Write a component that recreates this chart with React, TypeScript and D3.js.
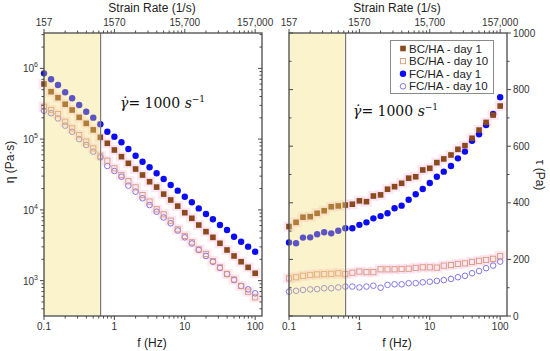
import React from "react";
import * as d3 from "d3";

// ---------- DATA ----------
const freq = [0.1, 0.126, 0.158, 0.2, 0.251, 0.316, 0.398, 0.501, 0.631, 0.794, 1, 1.26, 1.58, 2, 2.51, 3.16, 3.98, 5.01, 6.31, 7.94, 10, 12.6, 15.8, 20, 25.1, 31.6, 39.8, 50.1, 63.1, 79.4, 100];

// viscosity eta (Pa·s)
const etaBC1 = [6.01e5, 4.68e5, 3.85e5, 3.11e5, 2.58e5, 2.03e5, 1.67e5, 1.35e5, 1.06e5, 8.73e4, 7.02e4, 5.65e4, 4.55e4, 3.78e4, 3.11e4, 2.5e4, 2.1e4, 1.67e4, 1.38e4, 1.13e4, 9.12e3, 7.6e3, 6.11e3, 4.92e3, 4.09e3, 3.37e3, 2.71e3, 2.23e3, 1.85e3, 1.54e3, 1.27e3];
const etaBC10 = [2.87e5, 2.58e5, 2.26e5, 1.76e5, 1.42e5, 1.14e5, 9.2e4, 7.41e4, 5.83e4, 4.95e4, 3.87e4, 3.11e4, 2.54e4, 2.08e4, 1.62e4, 1.31e4, 1.02e4, 8.65e3, 7.03e3, 5.31e3, 4.28e3, 3.48e3, 2.77e3, 2.38e3, 1.89e3, 1.54e3, 1.24e3, 1.04e3, 840, 697, 581];
const etaFC1 = [8.51e5, 7.01e5, 5.82e5, 4.59e5, 3.78e5, 3.03e5, 2.44e5, 2.01e5, 1.62e5, 1.27e5, 1.08e5, 9.02e4, 7.24e4, 5.83e4, 4.8e4, 4.0e4, 3.29e4, 2.73e4, 2.25e4, 1.87e4, 1.53e4, 1.28e4, 1.05e4, 8.75e3, 7.36e3, 6.11e3, 5.2e3, 4.18e3, 3.55e3, 3.02e3, 2.56e3];
const etaFC10 = [2.52e5, 2.32e5, 1.96e5, 1.55e5, 1.27e5, 1.0e5, 8.26e4, 6.64e4, 5.53e4, 4.17e4, 3.54e4, 2.94e4, 2.2e4, 1.81e4, 1.46e4, 1.17e4, 9.42e3, 7.8e3, 6.46e3, 5.11e3, 4.09e3, 3.35e3, 2.71e3, 2.23e3, 1.85e3, 1.51e3, 1.24e3, 1.02e3, 840, 754, 662];

// shear stress tau (Pa)
const tauBC1 = [316, 331, 349, 351, 363, 372, 386, 389, 392, 395, 407, 404, 424, 428, 448, 457, 469, 487, 492, 516, 522, 542, 555, 569, 589, 602, 628, 657, 684, 710, 742];
const tauBC10 = [133, 137, 142, 145, 147, 148, 149, 151, 148, 153, 157, 155, 155, 165, 165, 165, 166, 167, 170, 172, 172, 171, 178, 180, 184, 186, 191, 195, 198, 202, 212];
const tauFC1 = [260, 257, 277, 278, 289, 296, 292, 301, 310, 310, 322, 331, 345, 353, 363, 381, 390, 411, 430, 449, 470, 492, 510, 530, 557, 581, 619, 642, 675, 714, 773];
const tauFC10 = [86, 89, 92, 94, 95, 98, 98, 101, 104, 104, 101, 104, 107, 100, 110, 112, 112, 116, 116, 119, 121, 124, 127, 131, 137, 142, 151, 159, 169, 178, 192];

const fTicks = [0.1, 1, 10, 100];
const fTickLabels = ["0.1", "1", "10", "100"];
const strainTickLabels = ["157", "1570", "15,700", "157,000"];
const etaTickExps = [3, 4, 5, 6];
const tauTicks = [0, 200, 400, 600, 800, 1000];
const seriesNames = ["BC/HA - day 1", "BC/HA - day 10", "FC/HA - day 1", "FC/HA - day 10"];
const shearLimitHz = 1000 / 1570;

// ---------- STYLE ----------
const W = 550, H = 351;
const TOP = 33, BOT = 316;
const LX0 = 44, RX0 = 289, PW = 218;
const AX = "#4a4a4a";
const FONT = "'Liberation Sans', Arial, sans-serif";
const C_BC1 = "#8a4a1c";
const C_BC10 = "#d99a78";
const C_FC1 = "#0c0cf0";
const C_FC10 = "#7468e4";

const fDomain: [number, number] = [0.1, 125];

function Marker({ kind, x, y }: { kind: number; x: number; y: number }) {
  if (kind === 0) return <rect x={x - 2.8} y={y - 2.8} width={5.6} height={5.6} fill={C_BC1} />;
  if (kind === 1) return <rect x={x - 2.6} y={y - 2.6} width={5.2} height={5.2} fill="none" stroke={C_BC10} strokeWidth={0.9} />;
  if (kind === 2) return <circle cx={x} cy={y} r={3.2} fill={C_FC1} />;
  return <circle cx={x} cy={y} r={2.8} fill="none" stroke={C_FC10} strokeWidth={0.9} />;
}

function FreqAxes({ x0, x: xs }: { x0: number; x: d3.ScaleLogarithmic<number, number> }) {
  const minor = xs.ticks().filter((t) => !fTicks.some((m) => Math.abs(m - t) < 1e-9));
  return (
    <g>
      {fTicks.map((t, i) => (
        <g key={"b" + i}>
          <line x1={xs(t)} x2={xs(t)} y1={BOT} y2={BOT + 4} stroke={AX} />
          <text x={xs(t)} y={BOT + 14} textAnchor="middle" fontSize={10} fill="#333" fontFamily={FONT}>{fTickLabels[i]}</text>
        </g>
      ))}
      {minor.map((t, i) => (
        <line key={"bm" + i} x1={xs(t)} x2={xs(t)} y1={BOT} y2={BOT + 2.5} stroke={AX} />
      ))}
      {fTicks.map((t, i) => (
        <g key={"t" + i}>
          <line x1={xs(t)} x2={xs(t)} y1={TOP} y2={TOP - 4} stroke={AX} />
          <text x={xs(t)} y={TOP - 7} textAnchor="middle" fontSize={10} fill="#333" fontFamily={FONT}>{strainTickLabels[i]}</text>
        </g>
      ))}
      {minor.map((t, i) => (
        <line key={"tm" + i} x1={xs(t)} x2={xs(t)} y1={TOP} y2={TOP - 2.5} stroke={AX} />
      ))}
      <text x={x0 + 108} y={12} textAnchor="middle" fontSize={12} fill="#222" fontFamily={FONT}>Strain Rate (1/s)</text>
      <text x={x0 + 108} y={347} textAnchor="middle" fontSize={12} fill="#222" fontFamily={FONT}>f (Hz)</text>
    </g>
  );
}

function Gamma({ x, y }: { x: number; y: number }) {
  return (
    <text x={x} y={y} fontSize={14} fill="#111" fontFamily="'DejaVu Serif', 'Liberation Serif', serif">
      <tspan fontStyle="italic">{"\u03B3\u0307"}</tspan>
      <tspan>{"= 1000 "}</tspan>
      <tspan fontStyle="italic">s</tspan>
      <tspan fontSize={9} dy={-6}>{"\u22121"}</tspan>
    </text>
  );
}

export default function App() {
  const xL = d3.scaleLog().domain(fDomain).range([LX0, LX0 + PW]);
  const xR = d3.scaleLog().domain(fDomain).range([RX0, RX0 + PW]);
  const yEta = d3.scaleLog().domain([Math.pow(10, 2.5), Math.pow(10, 6.5)]).range([BOT, TOP]);
  const yTau = d3.scaleLinear().domain([0, 1000]).range([BOT, TOP]);

  const etaSeries = [etaBC1, etaBC10, etaFC1, etaFC10];
  const tauSeries = [tauBC1, tauBC10, tauFC1, tauFC10];
  const etaMinor = yEta.ticks().filter((t) => !etaTickExps.some((e) => Math.abs(Math.pow(10, e) - t) < 1e-6));
  const tauMinor = d3.range(100, 1000, 200);

  const drawOrder = [3, 1, 2, 0];

  return (
    <svg width={W} height={H} style={{ position: "absolute", left: 0, top: 0, background: "#fff" }}>
      <rect width={W} height={H} fill="#fff" />
      {/* ===== LEFT PANEL ===== */}
      <g>
        {[0, 1].map((s) =>
          etaSeries[s].map((v, i) => (
            <rect key={`pl${s}-${i}`} x={xL(freq[i]) - 5.5} y={yEta(v) - 5} width={11} height={10} fill="#fbd6ec" opacity={0.55} />
          ))
        )}
        {drawOrder.map((s) =>
          etaSeries[s].map((v, i) => <Marker key={`l${s}-${i}`} kind={s} x={xL(freq[i])} y={yEta(v)} />)
        )}
        <rect x={LX0} y={TOP} width={xL(shearLimitHz) - LX0} height={BOT - TOP} fill="#f0dc6e" opacity={0.35} />
        <line x1={xL(shearLimitHz)} x2={xL(shearLimitHz)} y1={TOP} y2={BOT} stroke="#7a7a7a" strokeWidth={1.2} />
        <rect x={LX0} y={TOP} width={PW} height={BOT - TOP} fill="none" stroke={AX} strokeWidth={1.3} />
        {etaTickExps.map((e) => (
          <g key={"ye" + e}>
            <line x1={LX0 - 4} x2={LX0} y1={yEta(Math.pow(10, e))} y2={yEta(Math.pow(10, e))} stroke={AX} />
            <line x1={LX0 + PW} x2={LX0 + PW - 4} y1={yEta(Math.pow(10, e))} y2={yEta(Math.pow(10, e))} stroke={AX} />
            <text x={LX0 - 6} y={yEta(Math.pow(10, e)) + 4} textAnchor="end" fontSize={10} fill="#333" fontFamily={FONT}>
              10<tspan fontSize={7} dy={-5}>{e}</tspan>
            </text>
          </g>
        ))}
        {etaMinor.map((t, i) => (
          <g key={"yem" + i}>
            <line x1={LX0 - 2.5} x2={LX0} y1={yEta(t)} y2={yEta(t)} stroke={AX} />
            <line x1={LX0 + PW} x2={LX0 + PW - 2.5} y1={yEta(t)} y2={yEta(t)} stroke={AX} />
          </g>
        ))}
        <text transform={`translate(14,162) rotate(-90)`} textAnchor="middle" fontSize={12} fill="#222" fontFamily={FONT}>η (Pa·s)</text>
        <FreqAxes x0={LX0} x={xL} />
        <Gamma x={120} y={108} />
      </g>

      {/* ===== RIGHT PANEL ===== */}
      <g>
        {[0, 1].map((s) =>
          tauSeries[s].map((v, i) => (
            <rect key={`pr${s}-${i}`} x={xR(freq[i]) - 5.5} y={yTau(v) - 5} width={11} height={10} fill="#fbd6ec" opacity={0.55} />
          ))
        )}
        {drawOrder.map((s) =>
          tauSeries[s].map((v, i) => <Marker key={`r${s}-${i}`} kind={s} x={xR(freq[i])} y={yTau(v)} />)
        )}
        <rect x={RX0} y={TOP} width={xR(shearLimitHz) - RX0} height={BOT - TOP} fill="#f0dc6e" opacity={0.35} />
        <line x1={xR(shearLimitHz)} x2={xR(shearLimitHz)} y1={TOP} y2={BOT} stroke="#7a7a7a" strokeWidth={1.2} />
        <rect x={RX0} y={TOP} width={PW} height={BOT - TOP} fill="none" stroke={AX} strokeWidth={1.3} />
        {tauTicks.map((t) => (
          <g key={"yt" + t}>
            <line x1={RX0 + PW} x2={RX0 + PW + 4} y1={yTau(t)} y2={yTau(t)} stroke={AX} />
            <line x1={RX0} x2={RX0 + 4} y1={yTau(t)} y2={yTau(t)} stroke={AX} />
            <text x={RX0 + PW + 6} y={yTau(t) + 3.5} fontSize={10} fill="#333" fontFamily={FONT}>{t}</text>
          </g>
        ))}
        {tauMinor.map((t) => (
          <g key={"ytm" + t}>
            <line x1={RX0 + PW} x2={RX0 + PW + 2.5} y1={yTau(t)} y2={yTau(t)} stroke={AX} />
            <line x1={RX0} x2={RX0 + 2.5} y1={yTau(t)} y2={yTau(t)} stroke={AX} />
          </g>
        ))}
        <text transform={`translate(536,175) rotate(90)`} textAnchor="middle" fontSize={12} fill="#222" fontFamily={FONT}>τ (Pa)</text>
        <FreqAxes x0={RX0} x={xR} />
        <Gamma x={353} y={116} />

        {/* legend */}
        <rect x={390.5} y={40.5} width={103} height={53} fill="#fff" stroke="#8a8a8a" strokeWidth={1} />
        {seriesNames.map((n, i) => (
          <g key={"lg" + i}>
            <Marker kind={i} x={403} y={48.5 + i * 12.6} />
            <text x={409} y={52.5 + i * 12.6} fontSize={11.5} fill="#222" fontFamily={FONT}>{n}</text>
          </g>
        ))}
      </g>
    </svg>
  );
}
